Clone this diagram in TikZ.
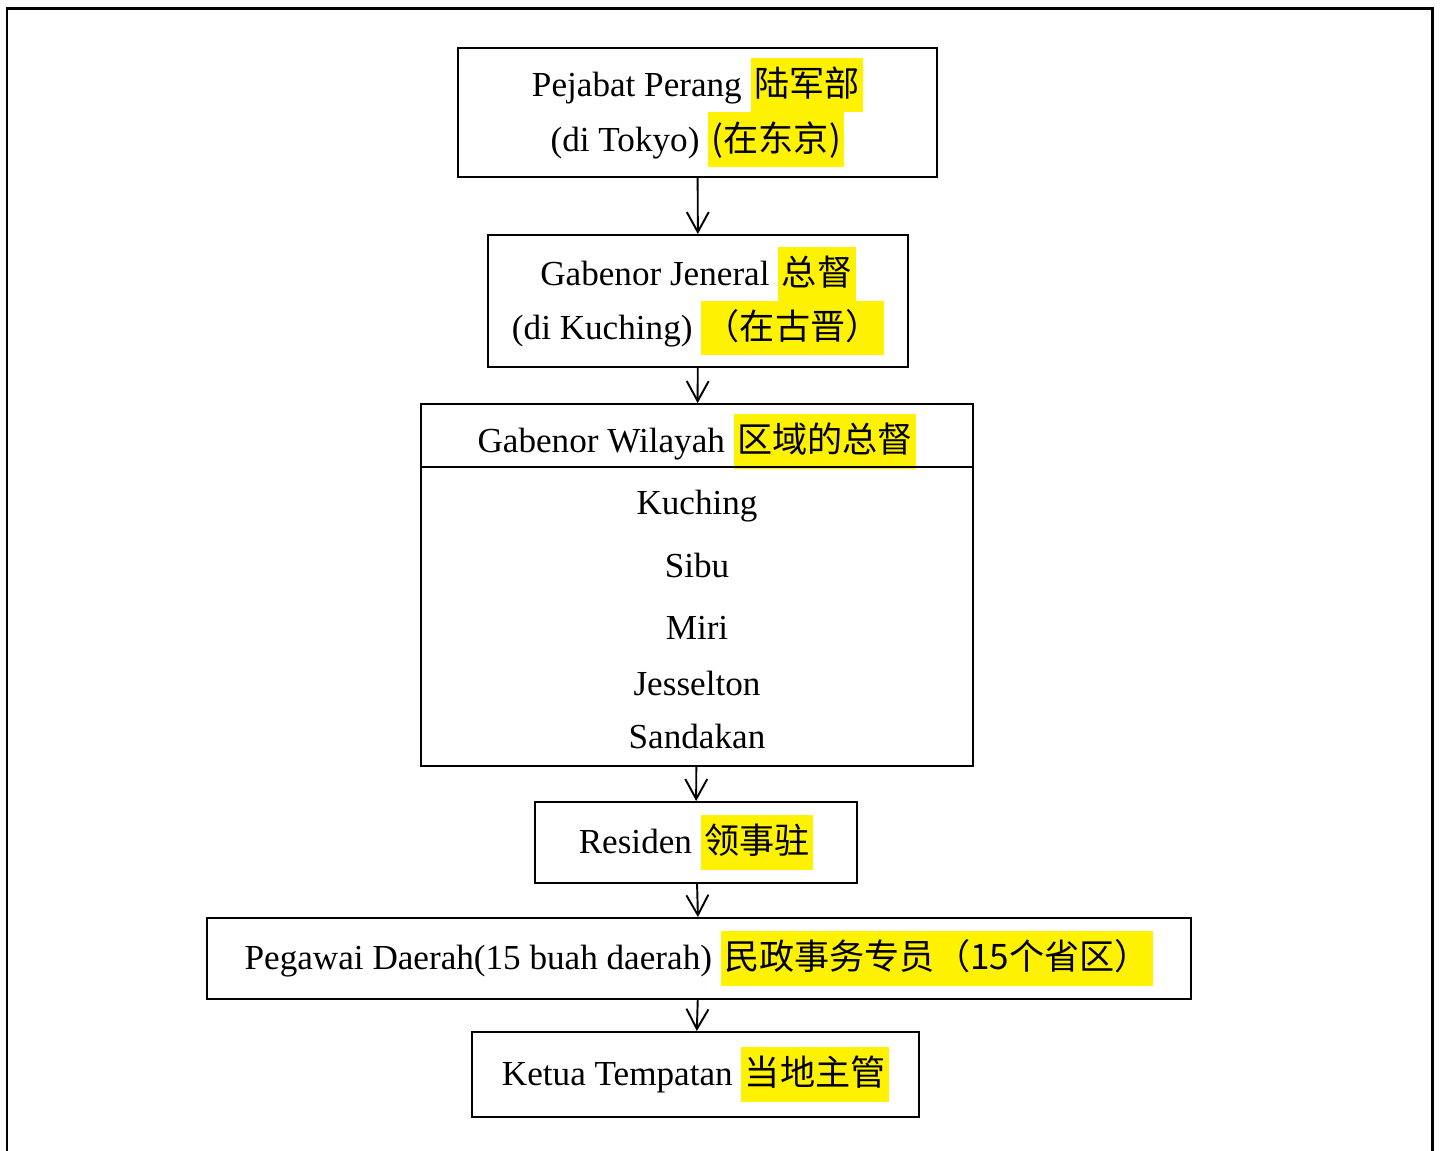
\documentclass[tikz,border=0pt]{standalone}
\usepackage{fontspec}
\setmainfont{Liberation Serif}
\newfontfamily\cjk{Noto Sans CJK SC}
\usetikzlibrary{arrows.meta}
\newcommand{\hl}[1]{{\setlength{\fboxsep}{0pt}\colorbox{yellow}{\kern2pt\rule[-9pt]{0pt}{31pt}\cjk #1\kern2pt}}}
\begin{document}
\begin{tikzpicture}[x=0.02cm,y=-0.02cm]
          \useasboundingbox (0,0) rectangle (1440,1151);
          \draw[line width=1.7pt] (7,1151) -- (7,9) -- (1432,9) -- (1432,1151);
          \tikzstyle{every node} = [draw, rectangle, line width=1.1pt, inner sep=0pt, align=center, font=\fontsize{20}{31}\selectfont];
          \node[minimum width=9.58cm, minimum height=2.58cm](1) at (697.5,112.5) {Pejabat Perang \hl{陆军部}\\(di Tokyo) \hl{(在东京)}};
          \node[minimum width=8.4cm, minimum height=2.64cm](2) at (698,301) {Gabenor Jeneral \hl{总督}\\(di Kuching) \hl{（在古晋）}};
          \node[minimum width=11.04cm, minimum height=7.24cm](3) at (697,585) {};
          \node[minimum width=6.44cm, minimum height=1.62cm](4) at (696,842.5) {Residen \hl{领事驻}};
          \node[minimum width=19.68cm, minimum height=1.62cm](5) at (699,958.5) {Pegawai Daerah(15 buah daerah) \hl{民政事务专员（15个省区）}};
          \node[minimum width=8.94cm, minimum height=1.7cm](6) at (695.5,1074.5) {Ketua Tempatan \hl{当地主管}};
          \tikzstyle{every node} = [anchor=base, font=\fontsize{20}{31}\selectfont]
          \node(h) at (697,453) {Gabenor Wilayah \hl{区域的总督}};
          \coordinate (s) at (0,467);
          \draw[line width=1.1pt] (3.west |- s) -- (3.east |- s);
          \node(k1) at (697,515) {Kuching};
          \node(k2) at (697,578) {Sibu};
          \node(k3) at (697,640) {Miri};
          \node(k4) at (697,695) {Jesselton};
          \node(k5) at (697,748) {Sandakan};
          \path[line width=1.1pt, -{Straight Barb[length=0.4cm,width=0.44cm]}]
          (1) edge (2);
          \path[line width=1.1pt, -{Straight Barb[length=0.4cm,width=0.44cm]}]
          (2) edge (3);
          \path[line width=1.1pt, -{Straight Barb[length=0.4cm,width=0.44cm]}]
          (3) edge (4);
          \path[line width=1.1pt, -{Straight Barb[length=0.4cm,width=0.44cm]}]
          (4) edge (5);
          \path[line width=1.1pt, -{Straight Barb[length=0.4cm,width=0.44cm]}]
          (5) edge (6);
\end{tikzpicture}
\end{document}
